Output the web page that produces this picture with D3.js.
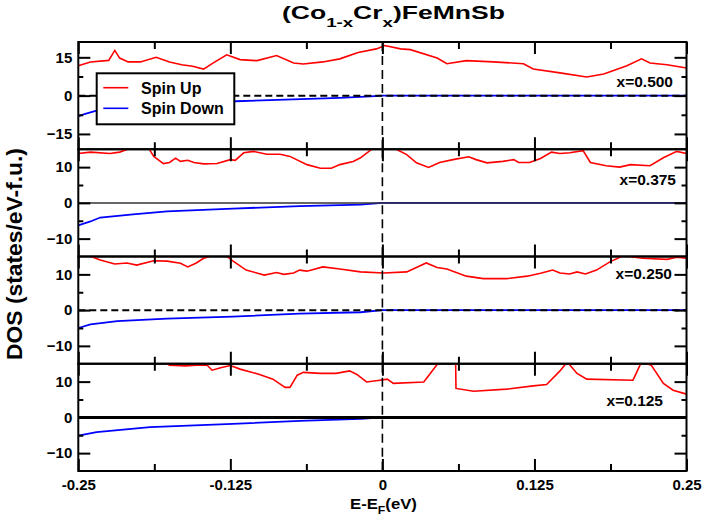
<!DOCTYPE html>
<html>
<head>
<meta charset="utf-8">
<script src="https://cdn.jsdelivr.net/npm/d3@7"></script>
<style>
  body { margin: 0; background: #fff; }
  text { font-family: "Liberation Sans", Arial, Helvetica, sans-serif; }
</style>
</head>
<body>
<svg id="chart" width="704" height="516"></svg>
<script>
// labels
const concentrations = ["x=0.500", "x=0.375", "x=0.250", "x=0.125"];
const xTickValues = [-0.25, -0.125, 0, 0.125, 0.25];
const xTickLabels = ["-0.25", "-0.125", "0", "0.125", "0.25"];
const xMinorTicks = [-0.1875, -0.0625, 0.0625, 0.1875];
const seriesNames = ["Spin Up", "Spin Down"];

// x = 0.500
const upE1 = [-0.250, -0.240, -0.225, -0.220, -0.216, -0.209, -0.199, -0.186, -0.175, -0.165, -0.156, -0.147, -0.139, -0.128, -0.117, -0.103, -0.087, -0.073, -0.065, -0.049, -0.035, -0.020, -0.005, 0.002, 0.015, 0.023, 0.045, 0.053, 0.069, 0.091, 0.116, 0.124, 0.146, 0.168, 0.182, 0.201, 0.213, 0.220, 0.234, 0.250];
const upDos1 = [11.7, 13.2, 13.8, 17.7, 14.7, 13.2, 13.2, 15.0, 13.2, 12.1, 11.5, 10.4, 12.8, 16.0, 14.1, 13.7, 15.7, 12.8, 12.4, 13.2, 14.4, 16.9, 18.3, 19.6, 18.3, 18.0, 14.7, 12.5, 13.7, 13.2, 12.5, 10.4, 8.9, 7.3, 8.5, 11.7, 14.4, 12.8, 12.1, 10.8];
const downE1 = [-0.250, -0.245, -0.235, -0.220, -0.200, -0.170, -0.121, -0.080, -0.035, -0.010, 0, 0.250];
const downDos1 = [-8.1, -7.2, -5.9, -4.6, -3.8, -3.1, -2.2, -1.6, -0.9, -0.3, 0, 0];

// x = 0.375
const upE2 = [-0.250, -0.240, -0.224, -0.216, -0.210, -0.202, -0.192, -0.188, -0.180, -0.175, -0.170, -0.166, -0.160, -0.155, -0.147, -0.136, -0.125, -0.121, -0.114, -0.106, -0.095, -0.084, -0.076, -0.062, -0.051, -0.042, -0.035, -0.024, -0.018, -0.010, 0.001, 0.013, 0.020, 0.028, 0.038, 0.047, 0.058, 0.071, 0.077, 0.086, 0.099, 0.108, 0.112, 0.121, 0.130, 0.139, 0.146, 0.154, 0.165, 0.171, 0.184, 0.195, 0.204, 0.220, 0.231, 0.242, 0.250];
const upDos2 = [13.8, 14.2, 13.8, 14.2, 14.9, 17.0, 15.2, 13.0, 11.0, 11.3, 12.5, 11.6, 11.9, 11.3, 10.9, 11.0, 12.1, 11.9, 14.0, 14.4, 13.6, 13.6, 13.0, 10.7, 9.7, 9.7, 10.7, 11.6, 12.6, 14.7, 17.0, 14.7, 13.5, 11.2, 9.9, 11.3, 12.1, 12.9, 12.1, 11.2, 11.6, 12.1, 11.3, 11.3, 12.4, 14.2, 13.8, 14.0, 14.6, 11.3, 10.4, 10.0, 10.7, 10.4, 12.6, 14.4, 13.8];
const downE2 = [-0.250, -0.240, -0.232, -0.205, -0.177, -0.123, -0.068, -0.018, 0, 0.250];
const downDos2 = [-6.3, -5.2, -4.1, -3.2, -2.4, -1.6, -0.9, -0.5, 0, 0];

// x = 0.250
const upE3 = [-0.250, -0.240, -0.232, -0.220, -0.210, -0.202, -0.188, -0.177, -0.166, -0.160, -0.153, -0.147, -0.141, -0.135, -0.128, -0.123, -0.112, -0.097, -0.087, -0.081, -0.073, -0.068, -0.062, -0.049, -0.035, -0.018, 0.001, 0.020, 0.036, 0.045, 0.053, 0.069, 0.083, 0.102, 0.119, 0.130, 0.140, 0.146, 0.154, 0.160, 0.167, 0.176, 0.187, 0.198, 0.214, 0.234, 0.242, 0.250];
const upDos3 = [16.0, 15.1, 14.0, 12.9, 13.2, 12.6, 13.8, 13.7, 13.1, 12.1, 13.2, 14.5, 15.1, 16.0, 15.1, 13.8, 11.2, 9.8, 10.5, 10.0, 10.4, 11.2, 10.9, 12.1, 11.5, 10.7, 10.4, 10.7, 13.2, 11.9, 11.5, 9.5, 8.8, 8.8, 9.5, 10.3, 11.2, 10.4, 10.1, 10.7, 10.1, 11.2, 13.5, 15.2, 14.5, 14.2, 14.8, 14.5];
const downE3 = [-0.250, -0.240, -0.218, -0.177, -0.123, -0.068, -0.018, 0, 0.250];
const downDos3 = [-5.0, -4.0, -3.1, -2.4, -1.8, -1.0, -0.6, 0, 0];

// x = 0.125
const upE4 = [-0.250, -0.216, -0.183, -0.175, -0.162, -0.153, -0.144, -0.140, -0.133, -0.125, -0.117, -0.101, -0.090, -0.080, -0.076, -0.070, -0.065, -0.051, -0.038, -0.027, -0.021, -0.013, -0.002, 0.004, 0.009, 0.034, 0.045, 0.052, 0.060, 0.0605, 0.075, 0.102, 0.124, 0.135, 0.146, 0.152, 0.160, 0.168, 0.206, 0.213, 0.221, 0.231, 0.239, 0.250];
const upDos4 = [17.0, 16.5, 16.0, 14.6, 14.4, 14.6, 14.6, 13.2, 13.9, 14.5, 13.5, 12.0, 10.7, 8.4, 8.4, 11.8, 12.6, 12.3, 12.3, 13.0, 12.0, 9.9, 10.4, 10.7, 9.5, 9.9, 14.8, 18.0, 20.0, 8.1, 7.3, 7.9, 8.8, 9.2, 13.0, 15.5, 12.3, 10.7, 10.4, 15.5, 14.6, 9.5, 7.6, 6.5];
const downE4 = [-0.250, -0.235, -0.191, -0.123, -0.068, -0.018, 0, 0.250];
const downDos4 = [-5.1, -4.1, -2.7, -1.8, -1.0, -0.4, 0, 0];

const panels = [
  { label: concentrations[0], upE: upE1, up: upDos1, downE: downE1, down: downDos1,
    domain: [-21, 21], major: [-15, 0, 15], minor: [-7.5, 7.5], zero: "dash" },
  { label: concentrations[1], upE: upE2, up: upDos2, downE: downE2, down: downDos2,
    domain: [-15, 15], major: [-10, 0, 10], minor: [-5, 5], zero: "thin" },
  { label: concentrations[2], upE: upE3, up: upDos3, downE: downE3, down: downDos3,
    domain: [-15, 15], major: [-10, 0, 10], minor: [-5, 5], zero: "dash" },
  { label: concentrations[3], upE: upE4, up: upDos4, downE: downE4, down: downDos4,
    domain: [-15, 15], major: [-10, 0, 10], minor: [-5, 5], zero: "thick" }
];
const labelPos = [[673, 87], [676, 185], [672, 279], [663, 406]];

const svg = d3.select("#chart");
const plotLeft = 78.3, plotRight = 686.5, plotTop = 42, plotBottom = 471;
const panelH = (plotBottom - plotTop) / panels.length;

const x = d3.scaleLinear().domain([-0.25, 0.25]).range([plotLeft, plotRight]);
const defs = svg.append("defs");

function styleAxis(g) {
  g.select(".domain").remove();
  g.selectAll(".tick line").attr("stroke", "#000").attr("stroke-width", 2);
  g.selectAll(".tick text").attr("fill", "#000").style("font-size", "15px").style("font-weight", "bold");
}

panels.forEach((p, i) => {
  const y0 = plotTop + i * panelH, y1 = y0 + panelH;
  const y = d3.scaleLinear().domain(p.domain).range([y1, y0]);
  const g = svg.append("g");

  defs.append("clipPath").attr("id", "clip" + i)
    .append("rect").attr("x", plotLeft).attr("y", y0)
    .attr("width", plotRight - plotLeft).attr("height", panelH);

  const line = d3.line().x(d => x(d[0])).y(d => y(d[1]));

  // spin down
  g.append("path")
    .datum(d3.zip(p.downE, p.down))
    .attr("fill", "none").attr("stroke", "#0000ff").attr("stroke-width", 1.8)
    .attr("clip-path", `url(#clip${i})`)
    .attr("d", line);

  // zero line
  const zl = g.append("line")
    .attr("x1", plotLeft).attr("x2", plotRight)
    .attr("y1", y(0)).attr("y2", y(0))
    .attr("stroke", "#000");
  if (p.zero === "dash") zl.attr("stroke-width", 2).attr("stroke-dasharray", "7,4");
  else if (p.zero === "thin") zl.attr("stroke-width", 1.5).attr("stroke", "#333");
  else zl.attr("stroke-width", 3);

  // spin up
  g.append("path")
    .datum(d3.zip(p.upE, p.up))
    .attr("fill", "none").attr("stroke", "#ff0000").attr("stroke-width", 1.6)
    .attr("clip-path", `url(#clip${i})`)
    .attr("d", line);

  // fermi level
  g.append("line")
    .attr("x1", x(0)).attr("x2", x(0)).attr("y1", y0).attr("y2", y1)
    .attr("stroke", "#000").attr("stroke-width", 1.6).attr("stroke-dasharray", "9,5");

  // y axes
  g.append("g").attr("transform", `translate(${plotLeft},0)`)
    .call(d3.axisLeft(y).tickValues(p.major).tickSize(-12).tickPadding(6).tickFormat(d3.format("d")))
    .call(styleAxis);
  g.append("g").attr("transform", `translate(${plotLeft},0)`)
    .call(d3.axisLeft(y).tickValues(p.minor).tickSize(-5).tickFormat(""))
    .call(styleAxis);
  g.append("g").attr("transform", `translate(${plotRight},0)`)
    .call(d3.axisRight(y).tickValues(p.major).tickSize(-12).tickFormat(""))
    .call(styleAxis);
  g.append("g").attr("transform", `translate(${plotRight},0)`)
    .call(d3.axisRight(y).tickValues(p.minor).tickSize(-5).tickFormat(""))
    .call(styleAxis);

  // x axes (top and bottom of every panel)
  g.append("g").attr("transform", `translate(0,${y0})`)
    .call(d3.axisTop(x).tickValues(xTickValues).tickSize(-12).tickFormat(""))
    .call(styleAxis);
  g.append("g").attr("transform", `translate(0,${y0})`)
    .call(d3.axisTop(x).tickValues(xMinorTicks).tickSize(-7).tickFormat(""))
    .call(styleAxis);
  const isLast = i === panels.length - 1;
  g.append("g").attr("transform", `translate(0,${y1})`)
    .call(d3.axisBottom(x).tickValues(xTickValues).tickSize(-12).tickPadding(8)
      .tickFormat((d, k) => isLast ? xTickLabels[k] : ""))
    .call(styleAxis);
  g.append("g").attr("transform", `translate(0,${y1})`)
    .call(d3.axisBottom(x).tickValues(xMinorTicks).tickSize(-7).tickFormat(""))
    .call(styleAxis);

  // frame
  g.append("rect")
    .attr("x", plotLeft).attr("y", y0).attr("width", plotRight - plotLeft).attr("height", panelH)
    .attr("fill", "none").attr("stroke", "#000").attr("stroke-width", 2);

  // concentration label
  g.append("text")
    .attr("x", labelPos[i][0]).attr("y", labelPos[i][1])
    .attr("text-anchor", "end")
    .style("font-size", "15.5px").style("font-weight", "bold")
    .text(p.label);
});

// legend
const legend = svg.append("g");
legend.append("rect")
  .attr("x", 96.7).attr("y", 73.3).attr("width", 137.6).attr("height", 51)
  .attr("fill", "#fff").attr("stroke", "#000").attr("stroke-width", 2);
[["#ff0000", 87.7], ["#0000ff", 108.3]].forEach((s, k) => {
  legend.append("line")
    .attr("x1", 103.3).attr("x2", 128.3).attr("y1", s[1]).attr("y2", s[1])
    .attr("stroke", s[0]).attr("stroke-width", 1.6);
  legend.append("text")
    .attr("x", 141).attr("y", s[1] + 5.8)
    .style("font-size", "16px").style("font-weight", "bold")
    .text(seriesNames[k]);
});

// fit a text element to a target width by horizontal scaling
function fit(sel, target, tx, ty, rot) {
  const w = sel.node().getBBox().width;
  const k = target / w;
  sel.attr("transform", `translate(${tx},${ty})${rot ? " rotate(" + rot + ")" : ""} scale(${k},1)`);
}

// title
const title = svg.append("text")
  .attr("x", 0).attr("y", 0)
  .style("font-size", "18.5px").style("font-weight", "bold");
title.append("tspan").text("(Co");
title.append("tspan").attr("dy", 8).style("font-size", "13px").text("1-x");
title.append("tspan").attr("dy", -8).text("Cr");
title.append("tspan").attr("dy", 8).style("font-size", "13px").text("x");
title.append("tspan").attr("dy", -8).text(")FeMnSb");
fit(title, 223, 282, 18.5);

// y label
const yLabel = svg.append("text")
  .attr("x", 0).attr("y", 0)
  .attr("text-anchor", "middle")
  .style("font-size", "22px").style("font-weight", "bold")
  .text("DOS (states/eV-f.u.)");
fit(yLabel, 212, 21.5, 254, -90);

// x label
const xLabel = svg.append("text")
  .attr("x", 0).attr("y", 0)
  .style("font-size", "15px").style("font-weight", "bold");
xLabel.append("tspan").text("E-E");
xLabel.append("tspan").attr("dy", 5).style("font-size", "11px").text("F");
xLabel.append("tspan").attr("dy", -5).text("(eV)");
fit(xLabel, 67, 350, 509);
</script>
</body>
</html>
